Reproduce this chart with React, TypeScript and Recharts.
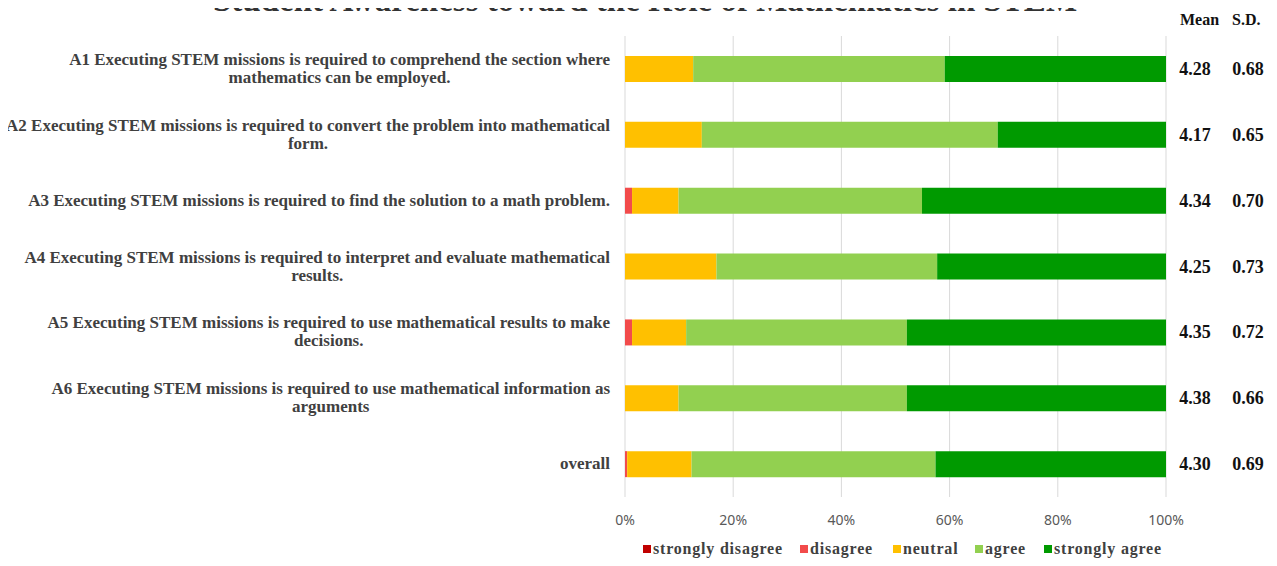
import React from "react";
import { BarChart, Bar, XAxis, YAxis, CartesianGrid, Legend, LabelList } from "recharts";

const categories = [
  "A1 Executing STEM missions is required to comprehend the section where mathematics can be employed.",
  "A2 Executing STEM missions is required to convert the problem into mathematical form.",
  "A3 Executing STEM missions is required to find the solution to a math problem.",
  "A4 Executing STEM missions is required to interpret and evaluate mathematical results.",
  "A5 Executing STEM missions is required to use mathematical results to make decisions.",
  "A6 Executing STEM missions is required to use mathematical information as arguments",
  "overall",
];
const stronglyDisagree = [0, 0, 0, 0, 0, 0, 0];
const disagree = [0, 0, 1.3, 0, 1.3, 0, 0.4];
const neutral = [12.6, 14.2, 8.6, 16.9, 10.0, 9.9, 11.9];
const agree = [46.5, 54.7, 45.0, 40.8, 40.8, 42.2, 45.1];
const stronglyAgree = [40.9, 31.1, 45.1, 42.3, 47.9, 47.9, 42.6];
const means = ["4.28", "4.17", "4.34", "4.25", "4.35", "4.38", "4.30"];
const sds = ["0.68", "0.65", "0.70", "0.73", "0.72", "0.66", "0.69"];
const xTicks = [0, 20, 40, 60, 80, 100];
const title = "Student Awareness toward the Role of Mathematics in STEM";

const seriesKeys = ["stronglyDisagree", "disagree", "neutral", "agree", "stronglyAgree"];
const seriesNames = ["strongly disagree", "disagree", "neutral", "agree", "strongly agree"];
const seriesColors = ["#C00000", "#F24B4B", "#FFC000", "#92D050", "#009A00"];

const data = categories.map((name, i) => ({
  name,
  stronglyDisagree: stronglyDisagree[i],
  disagree: disagree[i],
  neutral: neutral[i],
  agree: agree[i],
  stronglyAgree: stronglyAgree[i],
}));

const LABEL_SIZE = 17;
const LABEL_FONT = `bold ${LABEL_SIZE}px 'Liberation Serif'`;
let ctx: CanvasRenderingContext2D | null = null;
function measure(t: string): number {
  if (!ctx) {
    const c = document.createElement("canvas");
    ctx = c.getContext("2d");
  }
  if (!ctx) return t.length * 8;
  ctx.font = LABEL_FONT;
  return ctx.measureText(t).width;
}

function wrap(text: string, maxChars: number): string[] {
  const words = text.split(" ");
  const lines: string[] = [];
  let cur = "";
  for (const w of words) {
    const next = cur ? cur + " " + w : w;
    if (next.length > maxChars && cur) {
      lines.push(cur);
      cur = w;
    } else cur = next;
  }
  if (cur) lines.push(cur);
  return lines;
}

const CategoryTick = (props: any) => {
  const { x, y, payload } = props;
  const lines = wrap(String(payload.value), 79);
  const blockW = Math.max(...lines.map(measure));
  const cx = x - blockW / 2;
  const lh = 18;
  const y0 = y - ((lines.length - 1) * lh) / 2;
  return (
    <g>
      {lines.map((l, i) => (
        <text
          key={i}
          x={cx}
          y={y0 + i * lh}
          dy={5}
          textAnchor="middle"
          fontFamily="'Liberation Serif', serif"
          fontWeight="bold"
          fontSize={LABEL_SIZE}
          fill="#404040"
        >
          {l}
        </text>
      ))}
    </g>
  );
};

const StatsLabel = (props: any) => {
  const { x, y, width, height, index } = props;
  const right = x + width;
  const cy = y + height / 2;
  return (
    <g fontFamily="'Liberation Serif', serif" fontWeight="bold" fontSize={18} fill="#111">
      <text x={right + 29} y={cy} dy={6} textAnchor="middle">{means[index]}</text>
      <text x={right + 82} y={cy} dy={6} textAnchor="middle">{sds[index]}</text>
    </g>
  );
};

const legendLeft = [0, 157, 250, 332, 401];

const LegendContent = () => (
  <div style={{ position: "relative", width: 560, height: 18, fontFamily: "'Liberation Serif', serif", fontWeight: "bold", fontSize: 16, lineHeight: "18px", letterSpacing: 0.8, color: "#404040", whiteSpace: "nowrap" }}>
    {seriesNames.map((n, i) => (
      <div key={n} style={{ position: "absolute", left: legendLeft[i], top: 0, height: 18, display: "flex", alignItems: "center" }}>
        <span style={{ display: "inline-block", width: 8, height: 8, background: seriesColors[i], marginRight: 2 }} />
        <span>{n}</span>
      </div>
    ))}
  </div>
);

export default function App() {
  return (
    <div style={{ margin: -8, position: "relative", width: 1277, height: 566, background: "#fff" }}>
      <div style={{ position: "absolute", top: -19, left: 15, width: 1260, textAlign: "center", fontFamily: "'Liberation Serif', serif", fontWeight: "bold", fontSize: 33, lineHeight: "38px", color: "#333", whiteSpace: "nowrap" }}>
        {title}
      </div>
      <div style={{ position: "absolute", top: 11, left: 1180, fontFamily: "'Liberation Serif', serif", fontWeight: "bold", fontSize: 16, color: "#111" }}>Mean</div>
      <div style={{ position: "absolute", top: 11, left: 1232, fontFamily: "'Liberation Serif', serif", fontWeight: "bold", fontSize: 16, color: "#111" }}>S.D.</div>
      <BarChart
        width={1277}
        height={566}
        layout="vertical"
        data={data}
        margin={{ top: 36, right: 111, bottom: 39, left: 0 }}
        barSize={26}
      >
        <CartesianGrid horizontal={false} stroke="#d9d9d9" />
        <XAxis
          type="number"
          domain={[0, 100]}
          ticks={xTicks}
          tickFormatter={(v: number) => `${v}%`}
          axisLine={false}
          tickLine={false}
          height={30}
          tick={{ fontFamily: "'Noto Sans', sans-serif", fontSize: 14, fill: "#595959" }}
          tickMargin={12}
        />
        <YAxis
          type="category"
          dataKey="name"
          width={625}
          axisLine={false}
          tickLine={false}
          tick={<CategoryTick />}
          tickMargin={9}
        />
        {seriesKeys.map((k, i) => (
          <Bar key={k} dataKey={k} name={seriesNames[i]} stackId="s" fill={seriesColors[i]} isAnimationActive={false}>
            {k === "stronglyAgree" ? <LabelList dataKey={k} content={<StatsLabel />} /> : null}
          </Bar>
        ))}
        <Legend
          layout="horizontal"
          verticalAlign="middle"
          align="center"
          content={<LegendContent />}
          wrapperStyle={{ top: 540, left: 643, width: 560, height: 18 }}
        />
      </BarChart>
    </div>
  );
}
